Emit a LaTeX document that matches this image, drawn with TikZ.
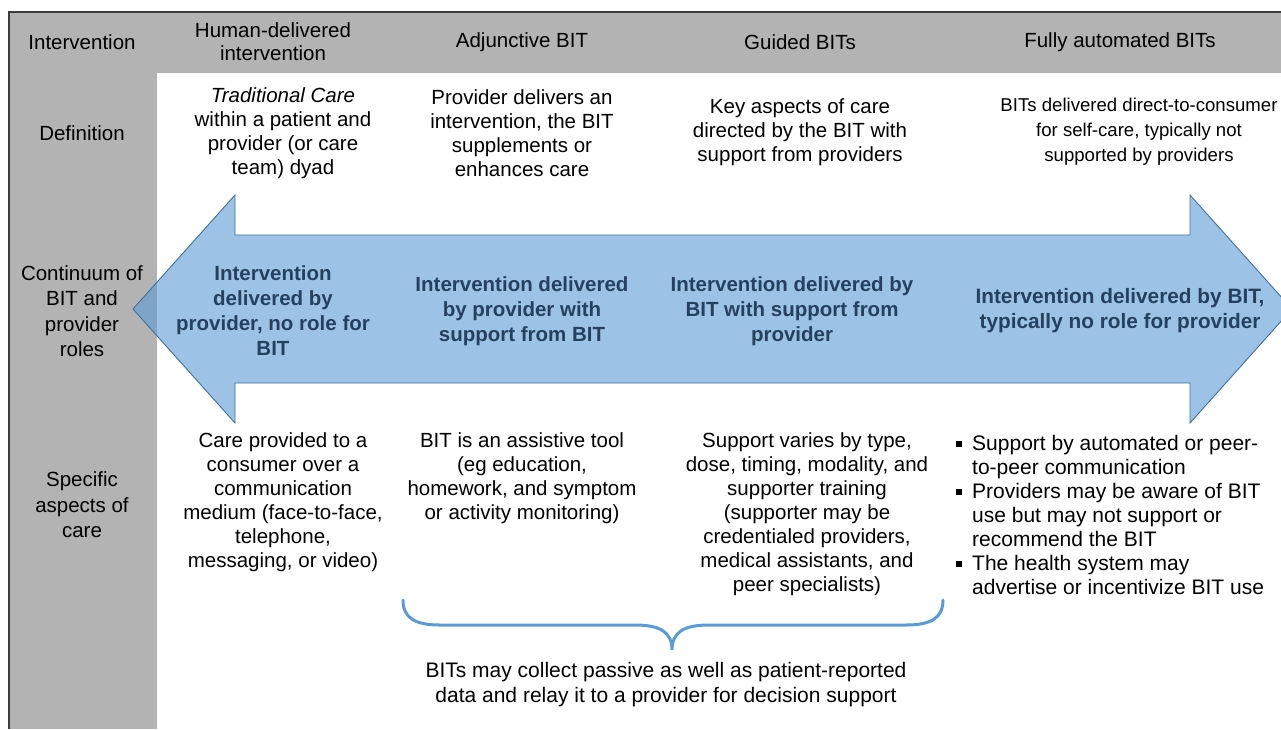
\documentclass[tikz,border=0pt]{standalone}
\usepackage{fontspec}
\setmainfont{Liberation Sans}
\definecolor{bandgray}{HTML}{B3B3B3}
\definecolor{edgegray}{HTML}{3C3C3C}
\definecolor{accent}{HTML}{5B9BD5}
\definecolor{arrowedge}{HTML}{41719C}
\definecolor{arrowtext}{HTML}{26405F}
\newcommand{\sqb}{\makebox[16pt][l]{\rule[3pt]{6pt}{6pt}}}
\newcommand{\ind}{\hspace*{16pt}}
\tikzset{
  txt/.style={align=center, inner sep=0pt, font=\fontsize{20.5}{24}\selectfont, text=black},
  lbl/.style={align=center, inner sep=0pt, font=\fontsize{20.5}{25.5}\selectfont, text=black},
  arrtxt/.style={align=center, inner sep=0pt, font=\fontsize{20.5}{25}\selectfont\bfseries, text=arrowtext},
  bigarrow/.style={fill=accent, fill opacity=0.6, draw=arrowedge, line width=0.9pt, line join=miter},
  bracestyle/.style={draw=accent, line width=3pt, line cap=round}
}
\begin{document}
\begin{tikzpicture}[x=1pt,y=-1pt]
\useasboundingbox (0,0) rectangle (1281,729);
\clip (0,0) rectangle (1281,729);
\fill[white] (0,0) rectangle (1281,729);
% grey header band and left column
\fill[bandgray] (9,12) rectangle (1281,73);
\fill[bandgray] (9,12) rectangle (157,729);
\draw[edgegray, line width=1.5pt] (9,729) -- (9,12) -- (1281,12);
% header
\node[txt] (hInt) at (82,42) {Intervention};
\node[txt, font=\fontsize{20.5}{23}\selectfont] (hHum) at (273,42) {Human-delivered\\intervention};
\node[txt] (hAdj) at (522,42) {Adjunctive BIT};
\node[txt] (hGui) at (800,42) {Guided BITs};
\node[txt] (hFul) at (1120,42) {Fully automated BITs};
% row labels
\node[lbl] (lDef) at (82,133) {Definition};
\node[lbl] (lCon) at (82,311) {Continuum of\\BIT and\\provider\\roles};
\node[lbl] (lSpe) at (82,505) {Specific\\aspects of\\care};
% definitions
\node[txt] (d1) at (283,133) {\textit{Traditional Care}\\within a patient and\\provider (or care\\team) dyad};
\node[txt] (d2) at (522,133) {Provider delivers an\\intervention, the BIT\\supplements or\\enhances care};
\node[txt] (d3) at (800,132) {Key aspects of care\\directed by the BIT with\\support from providers};
\node[txt, font=\fontsize{18.6}{25}\selectfont] (d4) at (1139,132) {BITs delivered direct-to-consumer\\for self-care, typically not\\supported by providers};
% continuum arrow
\path[bigarrow] (133,309) -- (235,195) -- (235,235) -- (1190,235) -- (1190,195) -- (1292,309)
  -- (1190,423) -- (1190,383) -- (235,383) -- (235,423) -- cycle;
\node[arrtxt] (a1) at (273,311) {Intervention\\delivered by\\provider, no role for\\BIT};
\node[arrtxt] (a2) at (522,311) {Intervention delivered\\by provider with\\support from BIT};
\node[arrtxt] (a3) at (792,311) {Intervention delivered by\\BIT with support from\\provider};
\node[arrtxt, font=\fontsize{20.8}{25}\selectfont\bfseries] (a4) at (1120,311) {Intervention delivered by BIT,\\typically no role for provider};
% specific aspects
\node[txt] (s1) at (283,502.5) {Care provided to a\\consumer over a\\communication\\medium (face-to-face,\\telephone,\\messaging, or video)};
\node[txt] (s2) at (522,478.5) {BIT is an assistive tool\\(eg education,\\homework, and symptom\\or activity monitoring)};
\node[txt] (s3) at (807,514.5) {Support varies by type,\\dose, timing, modality, and\\supporter training\\(supporter may be\\credentialed providers,\\medical assistants, and\\peer specialists)};
\node[txt, align=left, anchor=west, font=\fontsize{21}{24}\selectfont] (s4) at (956,514.5) {\sqb Support by automated or peer-\\\ind to-peer communication\\\sqb Providers may be aware of BIT\\\ind use but may not support or\\\ind recommend the BIT\\\sqb The health system may\\\ind advertise or incentivize BIT use};
% brace
\coordinate (brL) at (403,600);
\coordinate (brR) at (943,600);
\coordinate (brTip) at (672,650);
\draw[bracestyle] (brL) .. controls (403,618) and (415,625) .. (440,625) -- (635,625)
  .. controls (660,625) and (672,632) .. (brTip)
  .. controls (672,632) and (684,625) .. (709,625) -- (906,625)
  .. controls (931,625) and (943,618) .. (brR);
\node[txt, font=\fontsize{21}{25}\selectfont] (b1) at (666,684.5) {BITs may collect passive as well as patient-reported\\data and relay it to a provider for decision support};
\end{tikzpicture}
\end{document}
